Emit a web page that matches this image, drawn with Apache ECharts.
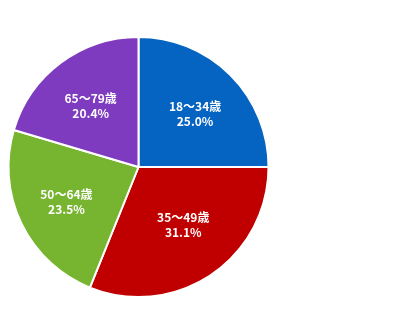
<!DOCTYPE html>
<html>
<head>
<meta charset="utf-8">
<script src="https://cdn.jsdelivr.net/npm/echarts@6/dist/echarts.min.js"></script>
<style>html,body{margin:0;padding:0;background:#fff;}#c{width:420px;height:334px;}</style>
</head>
<body>
<div id="c"></div>
<script>
const categories = ['18～34歳', '35～49歳', '50～64歳', '65～79歳'];
const values = [25.0, 31.1, 23.5, 20.4];
const colors = ['#0563C1', '#C00000', '#77B530', '#7E3BBF'];

const chart = echarts.init(document.getElementById('c'), null, {renderer: 'canvas'});
const data = categories.map((n, i) => ({name: n, value: values[i], itemStyle: {color: colors[i]}}));
const labelData = categories.map((n, i) => ({name: n, value: values[i]}));
const topGap = ['g8', '', '', 'g6'];
const bottomGap = ['', 'g16', '', ''];
chart.setOption({
  animation: false,
  series: [
    {
      type: 'pie',
      center: [138.5, 167],
      radius: [0, 130],
      startAngle: 90,
      clockwise: true,
      data: data,
      itemStyle: {borderColor: '#fff', borderWidth: 2},
      label: {show: false},
      labelLine: {show: false},
      silent: true
    },
    {
      type: 'pie',
      center: [138.5, 167],
      radius: [24, 130],
      startAngle: 90,
      clockwise: true,
      data: labelData,
      itemStyle: {color: 'rgba(0,0,0,0)'},
      label: {
        show: true,
        position: 'inside',
        formatter: p => {
          let s = '{t|' + p.name + '}\n{t|' + p.value.toFixed(1) + '%}';
          const t = topGap[p.dataIndex], b = bottomGap[p.dataIndex];
          if (t) s = '{' + t + '| }\n' + s;
          if (b) s += '\n{' + b + '| }';
          return s;
        },
        rich: {
          t: {color: '#fff', fontWeight: 'bold', fontSize: 12, lineHeight: 15, fontFamily: '"Noto Sans CJK JP", sans-serif'},
          g6: {fontSize: 1, lineHeight: 6, height: 6},
          g8: {fontSize: 1, lineHeight: 8, height: 8},
          g16: {fontSize: 1, lineHeight: 16, height: 16}
        }
      },
      labelLine: {show: false},
      silent: true
    }
  ]
});
</script>
</body>
</html>
